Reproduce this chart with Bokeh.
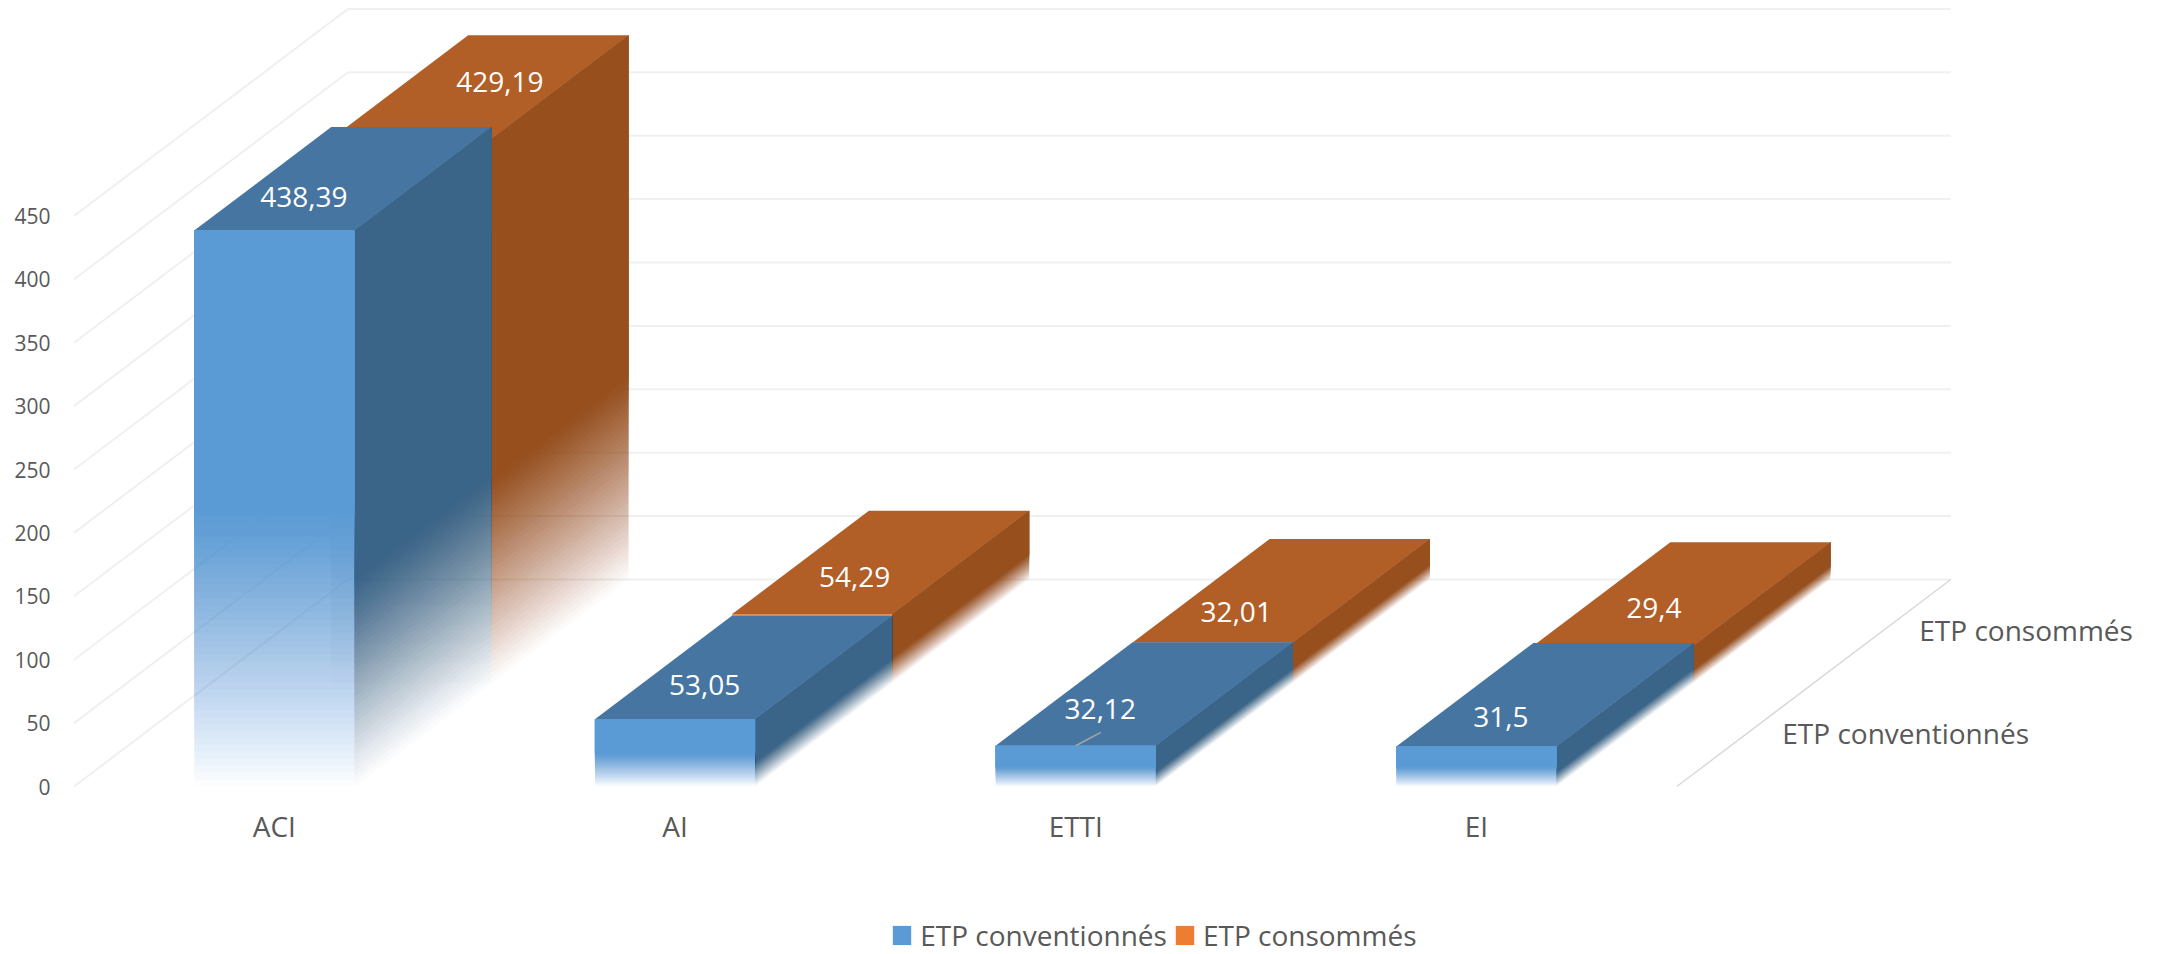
from bokeh.plotting import figure
from bokeh.models import (ColumnDataSource, Range1d, LinearAxis, FixedTicker, Legend, LegendItem)
from bokeh.core.properties import value
from bokeh.embed import file_html
from bokeh.resources import INLINE

# ---- data ----
categories = ["ACI", "AI", "ETTI", "EI"]
series_names = ["ETP conventionnés", "ETP consommés"]
etp_conventionnes = [438.39, 53.05, 32.12, 31.5]
etp_consommes = [429.19, 54.29, 32.01, 29.4]
labels_conventionnes = ["438,39", "53,05", "32,12", "31,5"]
labels_consommes = ["429,19", "54,29", "32,01", "29,4"]
y_ticks = [0, 50, 100, 150, 200, 250, 300, 350, 400, 450]

# ---- oblique projection and page geometry (pixels in the page) ----
PX_CAT = 400.7          # one category
PX_VAL = 1.268          # one value unit
ORIGIN_X, ORIGIN_Y = 73.5, 786.0
DEPTH_X, DEPTH_Y = 274.0 / PX_CAT, 207.0 / PX_VAL   # depth vector in data units
BAR_W = 0.4
W, H = 2157, 954
FRAME_L = 60

def proj(x, d, v):
    return x + d * DEPTH_X, v + d * DEPTH_Y

p = figure(width=W, height=H, output_backend="svg", toolbar_location=None,
           x_range=Range1d((FRAME_L - ORIGIN_X) / PX_CAT, (W - ORIGIN_X) / PX_CAT),
           y_range=Range1d((ORIGIN_Y - H) / PX_VAL, ORIGIN_Y / PX_VAL),
           x_axis_type=None, y_axis_type=None, min_border_left=FRAME_L, min_border_top=0,
           min_border_right=0, min_border_bottom=0)
p.grid.visible = False
p.outline_line_color = None
p.background_fill_color = "white"

# ---- axes ----
AXIS_COLOR = "#595959"
yax = LinearAxis(ticker=FixedTicker(ticks=y_ticks), axis_line_color=None, major_tick_line_color=None,
                 minor_tick_line_color=None, major_label_text_font="Open Sans",
                 major_label_text_font_size="21px", major_label_text_color=AXIS_COLOR,
                 major_label_standoff=4)
p.add_layout(yax, "left")
# category labels, hung under the floor line at each category's centre
p.text([i + 0.5 for i in range(len(categories))], [0] * len(categories), text=categories,
       y_offset=39, text_color=AXIS_COLOR, text_font=value("Open Sans"),
       text_font_size=value("28px"), text_align="center", text_baseline="middle")

# ---- walls ----
n_cat = len(categories)
GRID = "#f0f0f0"
for t in y_ticks:
    bx, by = proj(0, 1, t)
    ex, ey = proj(n_cat, 1, t)
    p.line([0, bx], [t, by], line_color=GRID, line_width=2)
    p.line([bx, ex], [by, ey], line_color=GRID, line_width=2)
fx, fy = proj(n_cat, 0, 0)
ex, ey = proj(n_cat, 1, 0)
p.line([fx, ex], [fy, ey], line_color="#d9d9d9", line_width=1.5)

# ---- bars ----
N = 40
N_GHOST = 14
def ramp_rows(points_fn, height, frac, color, rows, peak=None):
    n = N if peak is None else N_GHOST
    for k in range(n):
        lo = frac * height * k / n
        xs, ys = points_fn(lo, height)
        rows["xs"].append(xs); rows["ys"].append(ys)
        rows["color"].append(color)
        rows["alpha"].append(1.0 / (n - k) if peak is None else peak / n)

def new_rows():
    return {"xs": [], "ys": [], "color": [], "alpha": []}

def draw(rows):
    return p.patches("xs", "ys", source=ColumnDataSource(rows), fill_color="color",
                     fill_alpha="alpha", line_color=None)

def front_fn(x0, x1, d):
    def fn(lo, hi):
        pts = [proj(x0, d, lo), proj(x1, d, lo), proj(x1, d, hi), proj(x0, d, hi)]
        return [a for a, _ in pts], [b for _, b in pts]
    return fn

def side_fn(x1, d0, d1):
    def fn(lo, hi):
        pts = [proj(x1, d0, lo), proj(x1, d1, lo), proj(x1, d1, hi), proj(x1, d0, hi)]
        return [a for a, _ in pts], [b for _, b in pts]
    return fn

def top_poly(x0, x1, d0, d1, h):
    pts = [proj(x0, d0, h), proj(x1, d0, h), proj(x1, d1, h), proj(x0, d1, h)]
    return [a for a, _ in pts], [b for _, b in pts]

SIDE_FADE, FRONT_FADE = 0.38, 0.5
FRONT = ["#5b9bd5", "#ed7d31"]
TOP = ["#4675a2", "#b15e27"]
SIDE = ["#3a6488", "#974f1d"]

# back series: consommés
side_r, top_r, cap_r, ghost_r = new_rows(), new_rows(), new_rows(), new_rows()
for i, (a, b) in enumerate(zip(etp_conventionnes, etp_consommes)):
    x0, x1 = i + 0.5 - BAR_W / 2, i + 0.5 + BAR_W / 2
    ramp_rows(side_fn(x1, 0.5, 1.0), b, SIDE_FADE, SIDE[1], side_r)
    xs, ys = top_poly(x0, x1, 0.5, 1.0, b)
    top_r["xs"].append(xs); top_r["ys"].append(ys); top_r["color"].append(TOP[1]); top_r["alpha"].append(1)
    if b > a:
        xs, ys = front_fn(x0, x1, 0.5)(a, b)
        cap_r["xs"].append(xs); cap_r["ys"].append(ys); cap_r["color"].append(FRONT[1]); cap_r["alpha"].append(1)
    # faint trace of the rear bar seen through the faded front one
    ramp_rows(front_fn(x0, x1, 0.5), b, FRONT_FADE, "#7d7d7d", ghost_r, peak=0.22)
draw(side_r); draw(top_r); draw(ghost_r); cap_renderer = draw(cap_r)

# front series: conventionnés
side_b, top_b, front_b, solid_b = new_rows(), new_rows(), new_rows(), new_rows()
for i, a in enumerate(etp_conventionnes):
    x0, x1 = i + 0.5 - BAR_W / 2, i + 0.5 + BAR_W / 2
    ramp_rows(side_fn(x1, 0.0, 0.5), a, SIDE_FADE, SIDE[0], side_b)
    xs, ys = top_poly(x0, x1, 0.0, 0.5, a)
    top_b["xs"].append(xs); top_b["ys"].append(ys); top_b["color"].append(TOP[0]); top_b["alpha"].append(1)
    ramp_rows(front_fn(x0, x1, 0.0), a, FRONT_FADE, FRONT[0], front_b)
    xs, ys = front_fn(x0, x1, 0.0)(FRONT_FADE * a, a)
    solid_b["xs"].append(xs); solid_b["ys"].append(ys); solid_b["color"].append(FRONT[0]); solid_b["alpha"].append(1)
draw(side_b); draw(top_b); draw(front_b); solid_renderer = draw(solid_b)

# ---- data labels ----
LABEL_OFF_CONV = [(-39, 18), (-39, 18), (-44, 14.5), (-44, 22)]
LABEL_OFF_CONS = [(20, -5.5), (-26, 15), (-45, 21), (-28, 14.5)]
lx, ly, lt, lox, loy = [], [], [], [], []
for i in range(n_cat):
    px_, py_ = proj(i + 0.5, 0.25, etp_conventionnes[i])
    lx.append(px_); ly.append(py_); lt.append(labels_conventionnes[i])
    lox.append(LABEL_OFF_CONV[i][0]); loy.append(LABEL_OFF_CONV[i][1])
    px_, py_ = proj(i + 0.5, 0.75, etp_consommes[i])
    lx.append(px_); ly.append(py_); lt.append(labels_consommes[i])
    lox.append(LABEL_OFF_CONS[i][0]); loy.append(LABEL_OFF_CONS[i][1])
p.text(lx, ly, text=lt, x_offset=lox, y_offset=loy, text_color="white",
       text_font=value("Open Sans"), text_font_size=value("28px"),
       text_align="center", text_baseline="middle")

# leader of the ETTI label
ax_, ay_ = proj(2.5, 0.0, etp_conventionnes[2])
bx_, by_ = proj(2.5 + 0.018, 0.065, etp_conventionnes[2])
p.line([ax_, bx_], [ay_, by_], line_color="#a6a6a6", line_width=1.5)

# ---- depth axis labels ----
sx, sy = [], []
for d in (0.25, 0.75):
    a_, b_ = proj(n_cat, d, 0)
    sx.append(a_); sy.append(b_)
p.text(sx, sy, text=series_names, x_offset=[37, 37], y_offset=[-2, -1], text_color=AXIS_COLOR,
       text_font=value("Open Sans"), text_font_size=value("28px"),
       text_align="left", text_baseline="middle")

# ---- legend ----
LEG_X, LEG_BOTTOM = 890.2 - FRAME_L, 0
legend = Legend(items=[LegendItem(label=series_names[0], renderers=[solid_renderer]),
                       LegendItem(label=series_names[1], renderers=[cap_renderer])],
                orientation="horizontal", location=(LEG_X, LEG_BOTTOM), padding=0, margin=0, spacing=6,
                glyph_width=23, glyph_height=24, label_standoff=7, border_line_color=None,
                background_fill_alpha=0, label_text_font="Open Sans", label_text_font_size="28px",
                label_text_color=AXIS_COLOR, label_height=24)
p.add_layout(legend, "center")

# the legend's swatches fade to white at their foot, like the bars
def to_x(px): return (px - ORIGIN_X) / PX_CAT
def to_y(py): return (ORIGIN_Y - py) / PX_VAL
FADE_TOP, FADE_BOTTOM, FADE_N = 937.0, 948.0, 10
for sw0, sw1 in ((890, 914), (1172, 1196)):
    for k in range(FADE_N):
        t_ = FADE_TOP + (FADE_BOTTOM - FADE_TOP) * k / FADE_N
        p.quad(left=to_x(sw0), right=to_x(sw1), top=to_y(t_), bottom=to_y(FADE_BOTTOM),
               fill_color="white", fill_alpha=1.0 / (FADE_N - k) if k < FADE_N - 1 else 0.9,
               line_color=None, level="overlay")

open("out.html", "w").write(file_html(p, INLINE))
